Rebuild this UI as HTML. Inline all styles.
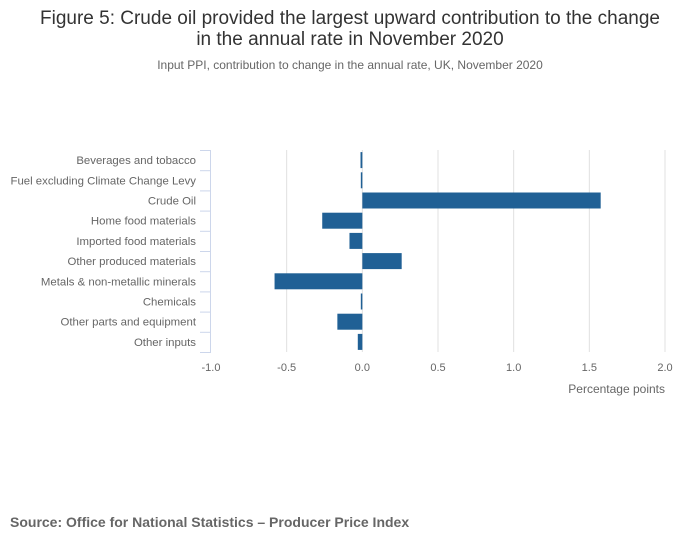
<!DOCTYPE html>
<html><head><meta charset="utf-8">
<style>
body{margin:0;background:#fff;font-family:"Liberation Sans",sans-serif;}
#wrap{position:relative;width:700px;height:549px;overflow:hidden;}
</style></head>
<body>
<div id="wrap">
<svg id="chart" width="700" height="549" xmlns="http://www.w3.org/2000/svg">
<text x="350" y="24" text-anchor="middle" font-size="19" fill="#333">Figure 5: Crude oil provided the largest upward contribution to the change</text>
<text x="350" y="45" text-anchor="middle" font-size="19" fill="#333">in the annual rate in November 2020</text>
<text x="350" y="69" text-anchor="middle" font-size="12" fill="#666">Input PPI, contribution to change in the annual rate, UK, November 2020</text>
<g id="grid"></g>
<g id="bars"></g>
<g id="yaxis"></g>
<g id="xaxis"></g>
<text x="665" y="393" text-anchor="end" font-size="12" fill="#666">Percentage points</text>
<text x="10" y="527" font-size="14" font-weight="bold" fill="#666">Source: Office for National Statistics – Producer Price Index</text>
</svg>
</div>
<script>
const categories=["Beverages and tobacco","Fuel excluding Climate Change Levy","Crude Oil","Home food materials","Imported food materials","Other produced materials","Metals & non-metallic minerals","Chemicals","Other parts and equipment","Other inputs"];
const values=[-0.012,-0.01,1.575,-0.265,-0.085,0.26,-0.58,-0.01,-0.165,-0.03];
const xTicks=[-1.0,-0.5,0.0,0.5,1.0,1.5,2.0];
const xTickLabels=["-1.0","-0.5","0.0","0.5","1.0","1.5","2.0"];
const NS="http://www.w3.org/2000/svg";
const x0=211,x1=665,xmin=-1,xmax=2,plotTop=150,plotBottom=352;
const band=(plotBottom-plotTop)/categories.length;
function xs(v){return x0+(v-xmin)/(xmax-xmin)*(x1-x0);}
function ys(i){return plotTop+i*band;}
function mk(t,a,p){const e=document.createElementNS(NS,t);for(const k in a)e.setAttribute(k,a[k]);p.appendChild(e);return e;}
const grid=document.getElementById('grid'),bars=document.getElementById('bars'),ya=document.getElementById('yaxis'),xa=document.getElementById('xaxis');
xTicks.forEach((t,i)=>{
  if(i>0){const g=mk('line',{x1:xs(t),x2:xs(t),y1:plotTop,y2:plotBottom,stroke:'#e0e0e0','stroke-width':1},grid);
  
  }
  const l=mk('text',{x:xs(t),y:371,'text-anchor':'middle','font-size':11,fill:'#666'},xa);
  l.textContent=xTickLabels[i];
  
  
});
const ax=mk('line',{x1:210.5,x2:210.5,y1:plotTop,y2:plotBottom,stroke:'#ccd6eb','stroke-width':1},ya);


for(let i=0;i<=categories.length;i++){
  const tk=mk('line',{x1:200,x2:211,y1:ys(i)+0.5,y2:ys(i)+0.5,stroke:'#ccd6eb','stroke-width':1},ya);
  
  
}
categories.forEach((c,i)=>{
  const cy=ys(i)+band/2;
  const t=mk('text',{x:196,y:cy+4,'text-anchor':'end','font-size':11.4,fill:'#666'},ya);
  t.textContent=c;
  
  
  const v=values[i];
  const a=xs(Math.min(0,v)),b=xs(Math.max(0,v));
  const r=mk('rect',{x:a,y:cy-8,width:Math.max(1.5,b-a),height:16,fill:'#206095'},bars);
  
  
});
</script>
</body></html>
